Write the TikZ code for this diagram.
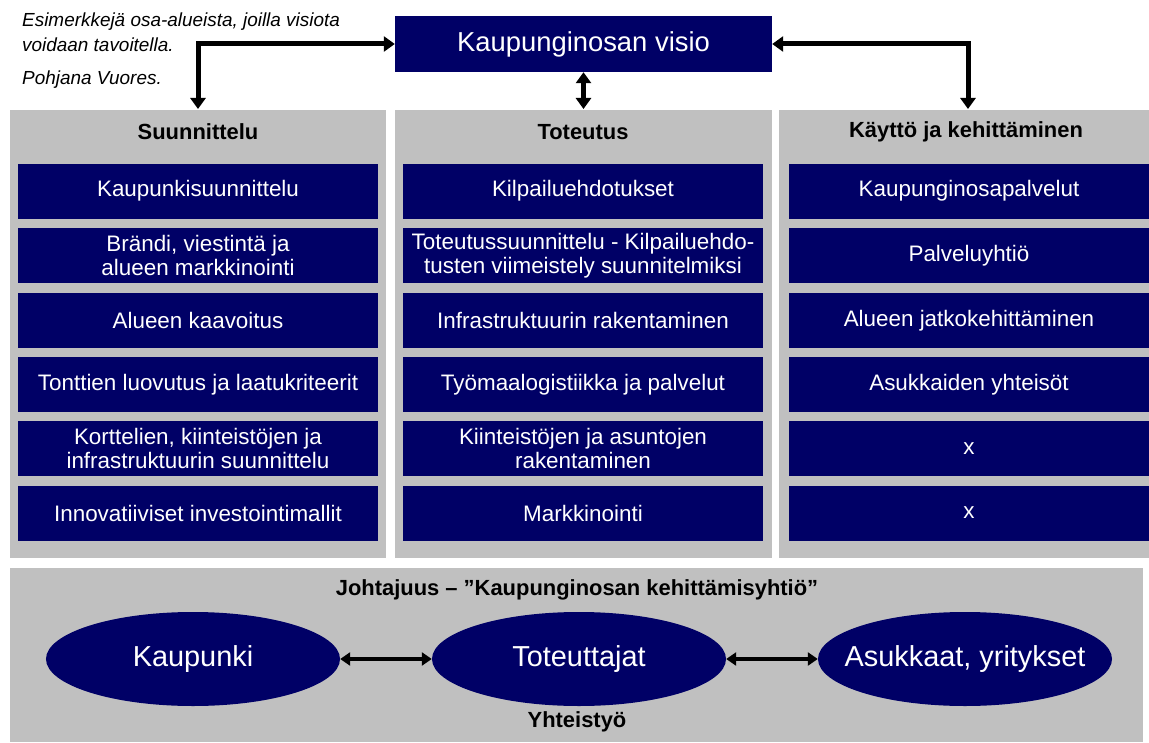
\documentclass[tikz,border=0pt]{standalone}
\usepackage{fontspec}
\setmainfont{Liberation Sans}
\usetikzlibrary{arrows.meta,shapes.geometric}
\definecolor{navy}{RGB}{0,0,102}
\definecolor{panel}{RGB}{192,192,192}
\begin{document}
\begin{tikzpicture}[x=1bp,y=-1bp,
  panelbox/.style={fill=panel,draw=none,inner sep=0pt},
  darkbox/.style={fill=navy,draw=none,inner sep=0pt,minimum width=360bp,minimum height=55bp,
    text=white,align=center,font=\fontsize{22.5}{24.5}\selectfont},
  header/.style={font=\bfseries\fontsize{22}{24}\selectfont,text=black},
  notetext/.style={anchor=base west,inner sep=0pt,font=\itshape\fontsize{19}{25}\selectfont},
  oval/.style={ellipse,fill=navy,draw=none,inner sep=0pt,minimum width=294bp,minimum height=94bp},
  ovaltext/.style={inner sep=0pt,text=white,font=\fontsize{29}{32}\selectfont},
  bigarrow/.style={line width=5bp,{Triangle[length=11bp,width=15bp]}-{Triangle[length=11bp,width=15bp]}},
  midarrow/.style={line width=3.5bp,{Triangle[length=10bp,width=13bp]}-{Triangle[length=10bp,width=13bp]}}
]
\useasboundingbox (0,0) rectangle (1149,743);
\fill[white] (0,0) rectangle (1149,743);

% top-left note
\node[notetext] (note1) at (22,27) {Esimerkkejä osa-alueista, joilla visiota};
\node[notetext] (note2) at (22,52) {voidaan tavoitella.};
\node[notetext] (note3) at (22,85) {Pohjana Vuores.};

% vision
\node[fill=navy,inner sep=0pt,minimum width=377bp,minimum height=56bp,text=white,
  font=\fontsize{27.5}{30}\selectfont] (vision) at (583.5,44) {Kaupunginosan visio};

% columns
\node[panelbox,minimum width=376bp,minimum height=448bp] (colL) at (198,334) {};
\node[panelbox,minimum width=377bp,minimum height=448bp] (colM) at (583.5,334) {};
\node[panelbox,minimum width=370bp,minimum height=448bp] (colR) at (964,334) {};

\node[header] (hL) at (198,132) {Suunnittelu};
\node[header] (hM) at (583,132) {Toteutus};
\node[header] (hR) at (966,132) {Käyttö ja kehittäminen};

% left boxes
\node[darkbox] (L1) at (198,191) {Kaupunkisuunnittelu};
\node[darkbox] (L2) at (198,255.5) {Brändi, viestintä ja\\alueen markkinointi};
\node[darkbox] (L3) at (198,320.5) {Alueen kaavoitus};
\node[darkbox] (L4) at (198,384.5) {Tonttien luovutus ja laatukriteerit};
\node[darkbox] (L5) at (198,448.5) {Korttelien, kiinteistöjen ja\\infrastruktuurin suunnittelu};
\node[darkbox] (L6) at (198,513) {Innovatiiviset investointimallit};

% middle boxes
\node[darkbox] (M1) at (583,191) {Kilpailuehdotukset};
\node[darkbox] (M2) at (583,255.5) {Toteutussuunnittelu - Kilpailuehdo-\\tusten viimeistely suunnitelmiksi};
\node[darkbox] (M3) at (583,320.5) {Infrastruktuurin rakentaminen};
\node[darkbox] (M4) at (583,384.5) {Työmaalogistiikka ja palvelut};
\node[darkbox] (M5) at (583,448.5) {Kiinteistöjen ja asuntojen\\rakentaminen};
\node[darkbox] (M6) at (583,513) {Markkinointi};

% right boxes
\node[darkbox] (R1) at (969,191) {Kaupunginosapalvelut};
\node[darkbox] (R2) at (969,255.5) {Palveluyhtiö};
\node[darkbox] (R3) at (969,320.5) {Alueen jatkokehittäminen};
\node[darkbox] (R4) at (969,384.5) {Asukkaiden yhteisöt};
\node[darkbox] (R5) at (969,448.5) {x};
\node[darkbox] (R6) at (969,513) {x};

% top arrows
\coordinate (aL) at (198,109);
\coordinate (aR) at (968,109);
\coordinate (aM) at (583.5,109);
\draw[bigarrow] (vision.west) -| (aL);
\draw[bigarrow] (vision.east) -| (aR);
\draw[bigarrow] (vision.south) -- (aM);

% bottom panel
\node[panelbox,minimum width=1133bp,minimum height=174bp] (bottom) at (576.5,655) {};
\node[header] (lead) at (577,590) {Johtajuus – ”Kaupunginosan kehittämisyhtiö”};
\node[oval] (E1) at (193,659) {};
\node[oval] (E2) at (579,659) {};
\node[oval] (E3) at (965,659) {};
\node[ovaltext] (E1t) at (E1.center) {Kaupunki};
\node[ovaltext] (E2t) at (E2.center) {Toteuttajat};
\node[ovaltext] (E3t) at (E3.center) {Asukkaat, yritykset};
\draw[midarrow] (E1.east) -- (E2.west);
\draw[midarrow] (E2.east) -- (E3.west);
\node[header] (coop) at (577,722) {Yhteistyö};
\end{tikzpicture}
\end{document}
